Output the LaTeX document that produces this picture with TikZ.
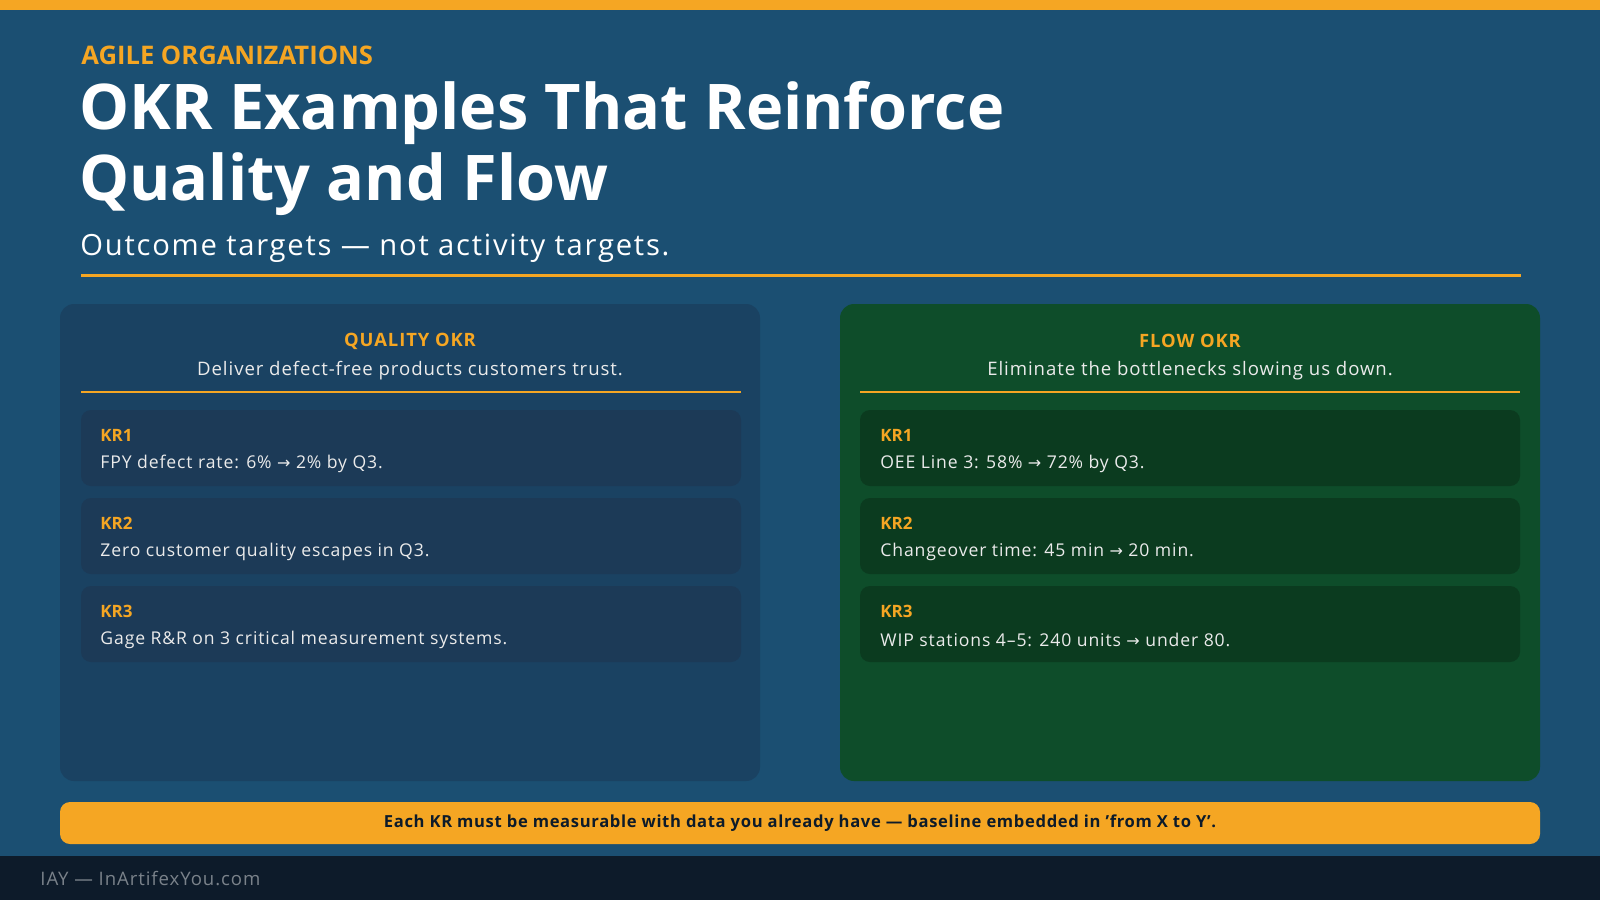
\documentclass[tikz,border=0pt]{standalone}
\usepackage{fontspec}
\setmainfont{Open Sans}
\newfontfamily\arrowfont{DejaVu Sans}
\newfontfamily\wide[LetterSpace=5]{Open Sans}
\definecolor{bg}{HTML}{1B4F72}
\definecolor{orng}{HTML}{F5A623}
\definecolor{lpan}{HTML}{1A4262}
\definecolor{lbox}{HTML}{1C3A57}
\definecolor{rpan}{HTML}{0E4D2A}
\definecolor{rbox}{HTML}{0B3B1F}
\definecolor{foot}{HTML}{0D1B2A}
\newcommand{\arr}{{\arrowfont\fontsize{8}{10}\selectfont →}}
\begin{document}
\begin{tikzpicture}[x=0.5pt,y=-0.5pt,inner sep=0pt,
  krl/.style={anchor=west,text=orng,font=\fontsize{8.5}{11}\selectfont\bfseries},
  krt/.style={anchor=west,text=white!92!black,font=\wide\fontsize{8.8}{11}\selectfont},
  hd/.style={text=orng,font=\wide\fontsize{9.2}{11}\selectfont\bfseries},
  sub/.style={text=white!92!black,font=\wide\fontsize{9.3}{11}\selectfont}]
\useasboundingbox (0,0) rectangle (1600,900);
\fill[bg] (0,0) rectangle (1600,900);
\fill[orng] (0,0) rectangle (1600,10);
\node[anchor=west,text=orng,font=\fontsize{12.8}{14}\selectfont\bfseries] (kick) at (81,55) {AGILE ORGANIZATIONS};
\node[anchor=west,text=white,font=\fontsize{31.5}{35}\selectfont\bfseries] (t1) at (79,113) {OKR Examples That Reinforce};
\node[anchor=west,text=white,font=\fontsize{14.6}{17}\selectfont\addfontfeature{LetterSpace=6}] (st) at (80,248) {Outcome targets — not activity targets.};
\node[anchor=west,text=white,font=\fontsize{31.5}{35}\selectfont\bfseries] (t2) at (79,184) {Quality and Flow};
\draw[orng,line width=1.5pt] (81,275) -- (1521,275);
% panels
\fill[lpan,rounded corners=7pt] (60,304) rectangle (760,781);
\fill[rpan,rounded corners=7pt] (840,304) rectangle (1540,781);
\node[hd] (lh) at (410,341) {QUALITY OKR};
\node[sub] (ls) at (410,371) {Deliver defect-free products customers trust.};
\draw[orng,line width=1pt] (81,392) -- (741,392);
\node[hd] (rh) at (1190,341) {FLOW OKR};
\node[sub] (rs) at (1190,371) {Eliminate the bottlenecks slowing us down.};
\draw[orng,line width=1pt] (860,392) -- (1520,392);
\foreach \y/\i in {410/1,498/2,586/3}{
  \fill[lbox,rounded corners=5pt] (81,\y) rectangle (741,\y+76);
  \fill[rbox,rounded corners=5pt] (860,\y) rectangle (1520,\y+76);
  \node[krl] (lk\i) at (100,\y+25) {KR\i};
  \node[krl] (rk\i) at (880,\y+25) {KR\i};
}
\node[krt] (lt1) at (100,464) {FPY defect rate: 6\% \arr\ 2\% by Q3.};
\node[krt] (lt2) at (100,552) {Zero customer quality escapes in Q3.};
\node[krt] (lt3) at (100,640) {Gage R\&R on 3 critical measurement systems.};
\node[krt] (rt1) at (880,464) {OEE Line 3: 58\% \arr\ 72\% by Q3.};
\node[krt] (rt2) at (880,552) {Changeover time: 45 min \arr\ 20 min.};
\node[krt] (rt3) at (880,640) {WIP stations 4–5: 240 units \arr\ under 80.};
% banner
\fill[orng,rounded corners=5pt] (60,802) rectangle (1540,844);
\node[text=foot,font=\fontsize{8.3}{10}\selectfont\bfseries\addfontfeature{LetterSpace=4}] (bn) at (800,823) {Each KR must be measurable with data you already have — baseline embedded in 'from X to Y'.};
\fill[foot] (0,856) rectangle (1600,900);
\node[anchor=west,text=white!45!foot,font=\wide\fontsize{9.3}{11}\selectfont] (ft) at (40,879) {IAY — InArtifexYou.com};
\end{tikzpicture}
\end{document}
